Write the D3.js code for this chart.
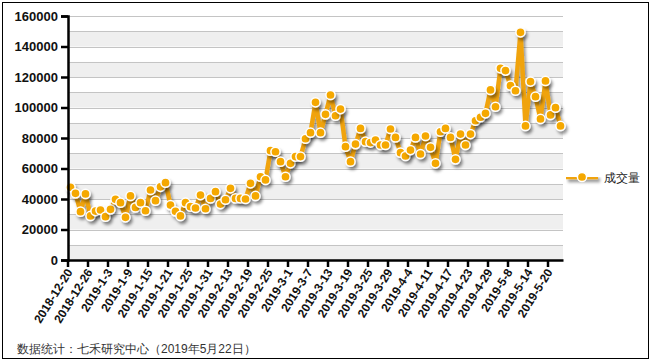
<!DOCTYPE html>
<html>
<head>
<meta charset="utf-8">
<script src="https://cdn.jsdelivr.net/npm/d3@7"></script>
<style>
  body { margin: 0; background: #fff; }
  svg text { font-family: "Liberation Sans", Arial, sans-serif; }
</style>
</head>
<body>
<div id="chart"></div>
<script>
// trading days 2018-12-20 .. 2019-5-22
var dates = [
  "2018-12-20","2018-12-21","2018-12-24","2018-12-25","2018-12-26","2018-12-27","2018-12-28",
  "2019-1-2","2019-1-3","2019-1-4","2019-1-7","2019-1-8","2019-1-9","2019-1-10","2019-1-11",
  "2019-1-14","2019-1-15","2019-1-16","2019-1-17","2019-1-18","2019-1-21","2019-1-22","2019-1-23",
  "2019-1-24","2019-1-25","2019-1-28","2019-1-29","2019-1-30","2019-1-31","2019-2-1",
  "2019-2-11","2019-2-12","2019-2-13","2019-2-14","2019-2-15","2019-2-18","2019-2-19","2019-2-20",
  "2019-2-21","2019-2-22","2019-2-25","2019-2-26","2019-2-27","2019-2-28","2019-3-1",
  "2019-3-4","2019-3-5","2019-3-6","2019-3-7","2019-3-8","2019-3-11","2019-3-12","2019-3-13",
  "2019-3-14","2019-3-15","2019-3-18","2019-3-19","2019-3-20","2019-3-21","2019-3-22","2019-3-25",
  "2019-3-26","2019-3-27","2019-3-28","2019-3-29","2019-4-1","2019-4-2","2019-4-3","2019-4-4",
  "2019-4-8","2019-4-9","2019-4-10","2019-4-11","2019-4-12","2019-4-15","2019-4-16","2019-4-17",
  "2019-4-18","2019-4-19","2019-4-22","2019-4-23","2019-4-24","2019-4-25","2019-4-26","2019-4-29",
  "2019-4-30","2019-5-6","2019-5-7","2019-5-8","2019-5-9","2019-5-10","2019-5-13","2019-5-14",
  "2019-5-15","2019-5-16","2019-5-17","2019-5-20","2019-5-21","2019-5-22"
];

var volume = [
  47700, 43700, 31700, 43300, 28900, 32100, 32800, 28400, 33200, 39800,
  37600, 28000, 42000, 34500, 37600, 32300, 45900, 38900, 48000, 50700,
  36000, 31900, 28900, 37600, 35000, 34100, 42600, 33600, 40400, 44800,
  36700, 39500, 47000, 40400, 40400, 40000, 50300, 42000, 54600, 52500,
  71700, 71000, 64500, 54600, 63400, 67800, 67800, 79500, 83500, 103400,
  83500, 95500, 108200, 94600, 99000, 74300, 64500, 76000, 86300, 77600,
  77000, 78700, 75400, 75400, 85900, 80400, 70400, 68200, 72100, 80400,
  69500, 81300, 73900, 63400, 84100, 86300, 80400, 66000, 82600, 75400,
  82600, 91300, 93600, 96200, 111500, 100500, 125700, 124200, 114300, 111000,
  149300, 87900, 117000, 107100, 92500, 117400, 95100, 99900, 87900
];

var yTicks = [0, 20000, 40000, 60000, 80000, 100000, 120000, 140000, 160000];
var seriesName = "成交量";
var footnote = "数据统计：七禾研究中心（2019年5月22日）";

var w = 653, h = 362;
var margin = { top: 16, left: 68, right: 90, bottom: 102 };
var lineColor = "#f0a30a", dotColor = "#f5a800";

var svg = d3.select("#chart").append("svg")
    .attr("width", w)
    .attr("height", h);

var defs = svg.append("defs");
var f = defs.append("filter").attr("id", "shadow")
    .attr("filterUnits", "userSpaceOnUse")
    .attr("x", 0).attr("y", 0).attr("width", w).attr("height", h);
f.append("feDropShadow")
    .attr("dx", 2).attr("dy", 3).attr("stdDeviation", 1.6)
    .attr("flood-color", "#000").attr("flood-opacity", 0.4);

var x = d3.scaleBand()
    .domain(dates)
    .range([margin.left, w - margin.right]);

var y = d3.scaleLinear()
    .domain([0, 160000])
    .range([h - margin.bottom, margin.top]);

// alternating bands
var bands = d3.range(0, 160000, 10000);
svg.selectAll(".band")
    .data(bands)
    .enter()
    .append("rect")
    .attr("x", margin.left)
    .attr("width", w - margin.right - margin.left)
    .attr("y", function(d) { return y(d + 10000); })
    .attr("height", function(d) { return y(d) - y(d + 10000); })
    .attr("fill", function(d) { return (d / 10000) % 2 === 0 ? "#efefef" : "#ffffff"; });

svg.selectAll(".grid")
    .data(d3.range(10000, 170000, 10000))
    .enter()
    .append("line")
    .attr("x1", margin.left)
    .attr("x2", w - margin.right)
    .attr("y1", function(d) { return Math.round(y(d)) + 0.5; })
    .attr("y2", function(d) { return Math.round(y(d)) + 0.5; })
    .attr("stroke", "#c4c4c4")
    .attr("stroke-width", 1);

// series
var line = d3.line()
    .x(function(d, i) { return x(dates[i]) + x.bandwidth() / 2; })
    .y(function(d) { return y(d); });

svg.append("path")
    .datum(volume)
    .attr("d", line)
    .attr("fill", "none")
    .attr("stroke", lineColor)
    .attr("stroke-width", 4.5)
    .attr("stroke-linejoin", "round")
    .attr("filter", "url(#shadow)");

svg.append("g").selectAll("circle")
    .data(volume)
    .enter()
    .append("circle")
    .attr("cx", function(d, i) { return x(dates[i]) + x.bandwidth() / 2; })
    .attr("cy", function(d) { return y(d); })
    .attr("r", 4.6)
    .attr("fill", dotColor)
    .attr("stroke", "#fff")
    .attr("stroke-width", 1.5)
    .attr("filter", "url(#shadow)");

// axes
var yAxis = d3.axisLeft(y).tickValues(yTicks).tickSize(7).tickFormat(d3.format("d"));
var ya = svg.append("g")
    .attr("transform", "translate(" + margin.left + ",0)")
    .call(yAxis);
ya.select(".domain").attr("stroke", "#000").attr("stroke-width", 2.5);
ya.selectAll(".tick line").attr("stroke", "#000").attr("stroke-width", 2.5);
ya.selectAll("text")
    .attr("x", -10)
    .style("font-size", "13px")
    .style("font-weight", "bold")
    .attr("fill", "#111");

var labelDates = dates.filter(function(d, i) { return i % 4 === 0; });
var xAxis = d3.axisBottom(x).tickValues(labelDates).tickSize(7).tickSizeOuter(0);
var xa = svg.append("g")
    .attr("transform", "translate(0," + (h - margin.bottom) + ")")
    .call(xAxis);
xa.select(".domain").attr("stroke", "#000").attr("stroke-width", 2.5);
xa.selectAll(".tick").attr("transform", function(d) { return "translate(" + x(d) + ",0)"; });
xa.selectAll(".tick line").attr("stroke", "#000").attr("stroke-width", 2.5);
xa.selectAll("text")
    .attr("y", 0).attr("x", 0).attr("dy", 0)
    .attr("transform", "translate(5,12) rotate(-58)")
    .style("text-anchor", "end")
    .style("font-size", "12px")
    .style("font-weight", "bold")
    .attr("fill", "#111");

// legend
var lg = svg.append("g").attr("transform", "translate(566,177)");
lg.append("path")
    .attr("d", "M0,0H32")
    .attr("stroke", lineColor).attr("stroke-width", 4.5)
    .attr("filter", "url(#shadow)");
lg.append("circle")
    .attr("cx", 16).attr("r", 4.6)
    .attr("fill", dotColor).attr("stroke", "#fff").attr("stroke-width", 1.5);
lg.append("text")
    .attr("x", 38).attr("y", 4.5)
    .style("font-size", "12px")
    .attr("fill", "#222")
    .text(seriesName);

// footnote + frame
svg.append("text")
    .attr("x", 17).attr("y", 353)
    .style("font-size", "12px")
    .attr("fill", "#333")
    .text(footnote);

svg.append("rect")
    .attr("x", 2.5).attr("y", 2.5)
    .attr("width", 646).attr("height", 356)
    .attr("fill", "none")
    .attr("stroke", "#000")
    .attr("stroke-width", 1);
</script>
</body>
</html>
